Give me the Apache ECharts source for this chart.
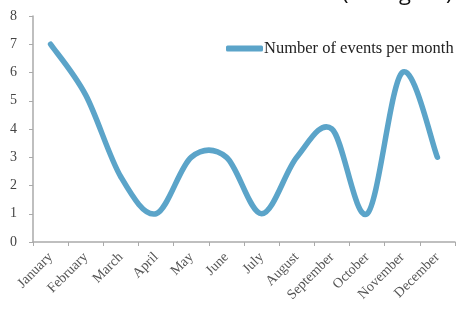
<!DOCTYPE html>
<html>
<head>
<meta charset="utf-8">
<style>html,body{margin:0;padding:0;background:#fff;}#c{width:456px;height:313px;}</style>
<script src="https://cdn.jsdelivr.net/npm/echarts@6/dist/echarts.min.js"></script>
</head>
<body>
<div id="c"></div>
<script>
var months = ['January','February','March','April','May','June','July','August','September','October','November','December'];
var eventsPerMonth = [7, 5.2, 2.3, 1, 3, 3, 1, 3, 4, 1, 6, 3];
var yTicks = [0, 1, 2, 3, 4, 5, 6, 7, 8];
var seriesName = 'Number of events per month';
var lineColor = '#5ba4c9';

// Excel-like smoothed line (Catmull-Rom spline) through the data points, placed by the axes.
function renderSmooth(params, api) {
  if (params.dataIndex !== 0) return null;
  var pts = eventsPerMonth.map(function (v, i) { return api.coord([i, v]); });
  var n = pts.length;
  var d = 'M' + pts[0][0] + ' ' + pts[0][1];
  for (var i = 0; i < n - 1; i++) {
    var p0 = pts[Math.max(0, i - 1)], p1 = pts[i], p2 = pts[i + 1], p3 = pts[Math.min(n - 1, i + 2)];
    var c1x = p1[0] + (p2[0] - p0[0]) / 6, c1y = p1[1] + (p2[1] - p0[1]) / 6;
    var c2x = p2[0] - (p3[0] - p1[0]) / 6, c2y = p2[1] - (p3[1] - p1[1]) / 6;
    d += ' C' + c1x + ' ' + c1y + ' ' + c2x + ' ' + c2y + ' ' + p2[0] + ' ' + p2[1];
  }
  return {
    type: 'path',
    shape: {pathData: d},
    style: {fill: 'none', stroke: lineColor, lineWidth: 5.5, lineCap: 'round', lineJoin: 'round'}
  };
}

var chart = echarts.init(document.getElementById('c'), null, {renderer: 'canvas'});
var serif = '"Liberation Serif", "DejaVu Serif", serif';
chart.setOption({
  animation: false,
  backgroundColor: '#fff',
  graphic: [{
    type: 'text', left: 342, top: -17, silent: true,
    style: {text: '(in English)', font: '22px "Open Sans", sans-serif', fill: '#111'}
  }],
  legend: {
    data: [seriesName],
    left: 221, top: 35,
    icon: 'roundRect',
    itemWidth: 37, itemHeight: 6, itemGap: 4,
    textStyle: {fontFamily: serif, fontSize: 16.5, color: '#222', padding: [0,0,0,-4]}
  },
  grid: {left: 33, right: 1, top: 16, bottom: 71},
  xAxis: {
    type: 'category',
    data: months,
    boundaryGap: true,
    axisLine: {lineStyle: {color: '#aaa', width: 1.5}},
    axisTick: {show: true, length: 4, lineStyle: {color: '#aaa'}},
    axisLabel: {rotate: 45, fontFamily: serif, fontSize: 14, color: '#555', margin: 13, interval: 0}
  },
  yAxis: {
    type: 'value',
    min: yTicks[0], max: yTicks[yTicks.length - 1], interval: 1,
    axisLine: {show: true, lineStyle: {color: '#aaa', width: 1.5}},
    axisTick: {show: true, length: 4, lineStyle: {color: '#aaa'}},
    splitLine: {show: false},
    axisLabel: {fontFamily: serif, fontSize: 14, color: '#444', margin: 16}
  },
  series: [{
    name: seriesName,
    type: 'custom',
    data: eventsPerMonth.map(function (v, i) { return [i, v]; }),
    encode: {x: 0, y: 1},
    renderItem: renderSmooth,
    clip: false,
    itemStyle: {color: lineColor}
  }]
});
</script>
</body>
</html>
